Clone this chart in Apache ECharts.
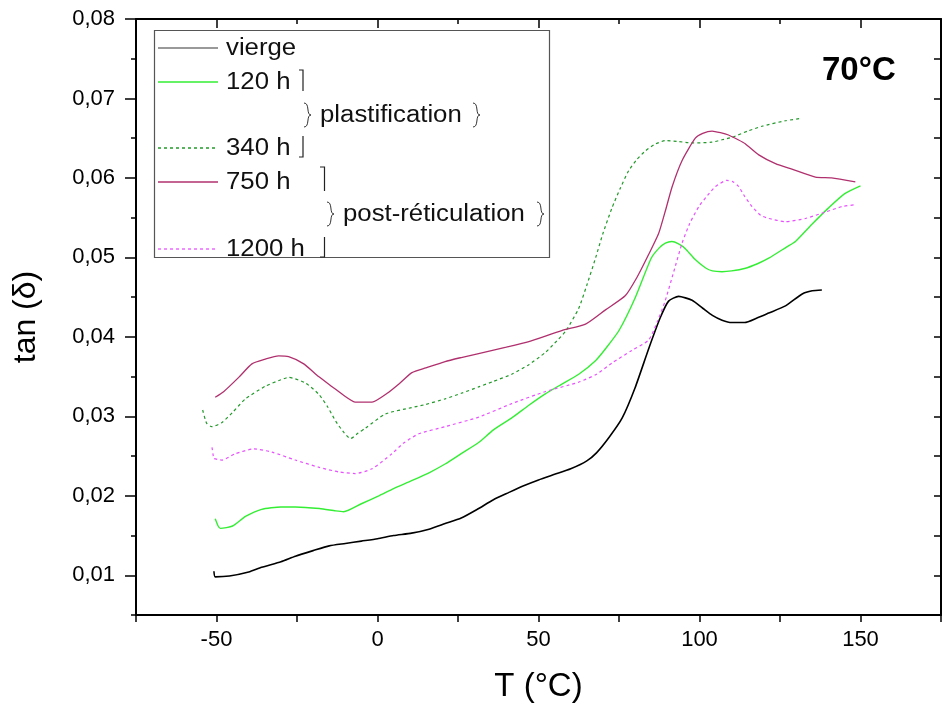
<!DOCTYPE html>
<html>
<head>
<meta charset="utf-8">
<script src="https://cdn.jsdelivr.net/npm/echarts@6/dist/echarts.min.js"></script>
<style>html,body{margin:0;padding:0;background:#fff}#c{width:943px;height:709px}</style>
</head>
<body>
<div id="c"></div>
<script>
// ---- data (T in °C, tan delta) ----
const seriesNames = ['vierge', '120 h', '340 h', '750 h', '1200 h'];
const xTickLabels = [-50, 0, 50, 100, 150];
const yTickLabels = [0.01, 0.02, 0.03, 0.04, 0.05, 0.06, 0.07, 0.08];

const vierge = [[-50.8,0.0105],[-50.4,0.0098],[-46,0.0099],[-40,0.0104],[-36,0.0110],[-30,0.0117],[-25.5,0.0124],[-20,0.0131],[-15,0.0137],[-10,0.0140],[-5,0.0143],[0,0.0146],[5,0.0150],[10.6,0.0153],[16,0.0158],[21,0.0165],[26,0.0172],[31,0.0183],[36,0.0195],[40.7,0.0204],[45,0.0212],[50,0.0220],[55,0.0227],[60,0.0234],[65,0.0244],[68,0.0254],[72,0.0274],[76,0.0298],[80,0.0336],[84.3,0.0386],[87.8,0.0424],[90.4,0.0445],[93.5,0.0451],[97.7,0.0446],[101,0.0436],[104,0.0427],[107,0.0421],[110,0.0418],[114,0.0418],[118,0.0424],[121.5,0.0430],[126.7,0.0439],[131.9,0.0454],[135,0.0458],[138,0.0459]];

const h120 = [[-50.4,0.0171],[-49.5,0.0162],[-48.8,0.0159],[-45,0.0162],[-41,0.0174],[-36,0.0183],[-30,0.0186],[-25.5,0.0186],[-18,0.0184],[-13,0.0181],[-10.5,0.0180],[-5,0.0190],[0.4,0.0200],[5,0.0209],[10.6,0.0219],[16,0.0229],[21,0.0240],[26,0.0253],[31.4,0.0267],[36,0.0283],[41.7,0.0298],[47,0.0314],[52,0.0328],[57,0.0340],[62.5,0.0353],[67.7,0.0370],[71,0.0386],[75,0.0408],[80,0.0449],[85,0.0499],[87.5,0.0512],[89.4,0.0518],[91.4,0.0520],[93.5,0.0517],[95.6,0.0511],[98.5,0.0498],[101.8,0.0487],[104,0.0483],[107,0.0482],[110,0.0483],[114,0.0486],[118,0.0492],[121.5,0.0499],[127,0.0513],[129.8,0.0520],[135,0.0542],[140,0.0562],[145,0.0580],[150,0.0590]];

const h340 = [[-54.3,0.0308],[-53.5,0.0296],[-53,0.0291],[-51.5,0.0287],[-48.4,0.0292],[-45,0.0305],[-41,0.0322],[-34.8,0.0338],[-30,0.0346],[-27.6,0.0349],[-22.4,0.0342],[-18.3,0.0328],[-15.5,0.0312],[-13,0.0294],[-10.5,0.0280],[-8.4,0.0272],[-6,0.0279],[-3.8,0.0285],[2.5,0.0303],[10.6,0.0311],[15,0.0315],[21,0.0322],[26,0.0329],[31.4,0.0337],[36,0.0344],[41.7,0.0353],[47,0.0365],[52,0.0380],[55,0.0392],[58.4,0.0407],[62.5,0.0436],[65,0.0465],[67.7,0.0499],[70,0.0530],[72.8,0.0562],[75.5,0.0588],[78,0.0609],[80.5,0.0623],[83.2,0.0634],[86,0.0642],[89.4,0.0647],[93,0.0646],[97.6,0.0644],[103.8,0.0645],[107,0.0648],[110,0.0651],[115,0.0659],[119.4,0.0665],[126.7,0.0672],[131.8,0.0675]];

const h750 = [[-50.4,0.0324],[-47.8,0.0331],[-43.1,0.0349],[-39,0.0366],[-34.8,0.0372],[-30.7,0.0376],[-27.6,0.0375],[-22.9,0.0366],[-18.3,0.0350],[-14,0.0337],[-10,0.0325],[-6.9,0.0318],[-1.7,0.0318],[3,0.0329],[7,0.0342],[10.7,0.0355],[15,0.0361],[21,0.0369],[26,0.0374],[31.4,0.0379],[40,0.0387],[47,0.0394],[57.2,0.0408],[64.6,0.0416],[70.8,0.0434],[77,0.0452],[80.6,0.0475],[84,0.0502],[87.3,0.0530],[89.5,0.0560],[91.5,0.0589],[94.6,0.0622],[98.7,0.0650],[101,0.0656],[103.9,0.0659],[106.5,0.0657],[109,0.0654],[112,0.0648],[114.2,0.0643],[118.4,0.0629],[123.6,0.0618],[128.7,0.0611],[136,0.0601],[141,0.0600],[148.4,0.0595]];

const h1200 = [[-51.4,0.0261],[-51,0.0250],[-50.9,0.0247],[-48.3,0.0245],[-44.1,0.0253],[-38.4,0.0259],[-32.8,0.0255],[-25.5,0.0245],[-18.3,0.0236],[-12,0.0230],[-6.9,0.0228],[-1.7,0.0234],[4.5,0.0253],[8,0.0266],[12.8,0.0278],[21,0.0287],[31.4,0.0299],[41.7,0.0316],[52,0.0331],[62.5,0.0343],[68,0.0353],[72.8,0.0367],[79,0.0383],[84.2,0.0396],[87,0.0420],[89.4,0.0446],[92,0.0482],[94.6,0.0518],[97,0.0543],[99.8,0.0564],[102.5,0.0578],[104.9,0.0589],[108.5,0.0597],[110.5,0.0595],[112.2,0.0589],[114,0.0577],[116.3,0.0564],[119,0.0553],[121.5,0.0549],[126.7,0.0545],[132.9,0.0549],[139,0.0557],[144.3,0.0564],[147.9,0.0566]];

// ---- styling ----
const FONT = '"Liberation Sans", Arial, sans-serif';
const colors = ['#000000', '#33ee33', '#22992a', '#b0306e', '#e850ff'];
const legendColors = ['#777777', '#33ee33', '#22992a', '#b0306e', '#e850ff'];
const dashed = [false, false, true, false, true];
const widths = [1.6, 1.4, 1.2, 1.3, 1.2];
const allData = [vierge, h120, h340, h750, h1200];

const series = allData.map((d, i) => ({
  name: seriesNames[i],
  type: 'line',
  data: d,
  showSymbol: false,
  smooth: 0.2,
  xAxisIndex: 0,
  yAxisIndex: 0,
  lineStyle: { color: colors[i], width: widths[i], type: dashed[i] ? [3, 3] : 'solid' },
  z: 3
}));

// ---- legend (drawn as graphic) ----
const legendRowsY = [48, 82, 148, 182, 249];
const graphic = [];
graphic.push({ type: 'rect', z: 50, shape: { x: 154.5, y: 30.5, width: 395, height: 227 },
  style: { fill: '#fff', stroke: '#555', lineWidth: 1.2 } });
function addText(txt, x, y, size, opts) {
  graphic.push(Object.assign({ type: 'text', z: 51, x: x, y: y, scaleX: 1.12,
    style: { text: txt, x: 0, y: 0, fill: '#111', font: size + 'px ' + FONT, textVerticalAlign: 'middle', textAlign: 'left' } }, opts || {}));
}
seriesNames.forEach((n, i) => {
  const y = legendRowsY[i];
  graphic.push({ type: 'line', z: 51, shape: { x1: 158, y1: y, x2: 218, y2: y },
    style: { stroke: legendColors[i], lineWidth: 1.3, lineDash: dashed[i] ? [3, 3] : null } });
  addText(n, 226, y + 1, 23);
});
function addPoly(pts) {
  graphic.push({ type: 'polyline', z: 51, shape: { points: pts }, style: { stroke: '#222', lineWidth: 1.2, fill: null } });
}
addPoly([[299, 70], [303, 70], [303, 91]]);
addPoly([[303, 136], [303, 157], [299, 157]]);
addPoly([[320, 167], [324.5, 167], [324.5, 191]]);
addPoly([[324.5, 237], [324.5, 257], [320, 257]]);
function addBrace(x, yc) {
  graphic.push({ type: 'bezierCurve', z: 51,
    shape: { x1: x, y1: yc - 12, x2: x + 7, y2: yc, cpx1: x + 6, cpy1: yc - 12, cpx2: x + 2, cpy2: yc },
    style: { stroke: '#333', lineWidth: 1, fill: null } });
  graphic.push({ type: 'bezierCurve', z: 51,
    shape: { x1: x + 7, y1: yc, x2: x, y2: yc + 12, cpx1: x + 2, cpy1: yc, cpx2: x + 6, cpy2: yc + 12 },
    style: { stroke: '#333', lineWidth: 1, fill: null } });
}
addBrace(304, 115); addText('plastification', 320, 116, 23); addBrace(473, 115);
addBrace(327, 214); addText('post-réticulation', 343, 215, 23); addBrace(537, 214);

// title
graphic.push({ type: 'text', z: 51, x: 822, y: 71,
  style: { text: '70°C', x: 0, y: 0, fill: '#000', font: 'bold 33px ' + FONT, textVerticalAlign: 'middle' } });

const axisLineStyle = { color: '#000', width: 2 };
const option = {
  animation: false,
  backgroundColor: '#fff',
  grid: { left: 136, right: 2, top: 19, bottom: 94, containLabel: false },
  xAxis: [
    { type: 'value', position: 'bottom', min: -75, max: 175, interval: 25,
      axisLine: { onZero: false, lineStyle: axisLineStyle },
      axisTick: { length: 7, lineStyle: { color: '#000', width: 1.5 } },
      axisLabel: { customValues: xTickLabels, color: '#000', fontSize: 22, fontFamily: FONT, margin: 14 },
      splitLine: { show: false },
      name: 'T (°C)', nameLocation: 'middle', nameGap: 55,
      nameTextStyle: { color: '#000', fontSize: 33, fontFamily: FONT } },
    { type: 'value', position: 'top', min: -75, max: 175, interval: 25,
      axisLine: { onZero: false, lineStyle: axisLineStyle },
      axisTick: { inside: true, length: 5, lineStyle: { color: '#000', width: 1.5 } },
      axisLabel: { show: false }, splitLine: { show: false } },
    { type: 'value', position: 'top', min: -75, max: 175, interval: 25,
      axisLine: { show: false, onZero: false },
      axisTick: { inside: true, length: 9, customValues: xTickLabels, lineStyle: { color: '#000', width: 1.5 } },
      axisLabel: { show: false }, splitLine: { show: false } }
  ],
  yAxis: [
    { type: 'value', position: 'left', min: 0.005, max: 0.08,
      axisLine: { onZero: false, lineStyle: axisLineStyle },
      axisTick: { length: 11, customValues: yTickLabels, lineStyle: { color: '#000', width: 1.5 } },
      axisLabel: { customValues: yTickLabels, color: '#000', fontSize: 22, fontFamily: FONT, margin: 21,
        formatter: v => v.toFixed(2).replace('.', ',') },
      splitLine: { show: false },
      name: 'tan (δ)', nameLocation: 'middle', nameGap: 94, nameRotate: 90,
      nameTextStyle: { color: '#000', fontSize: 32, fontFamily: FONT } },
    { type: 'value', position: 'left', min: 0.005, max: 0.08, interval: 0.005,
      axisLine: { show: false, onZero: false },
      axisTick: { length: 5, lineStyle: { color: '#000', width: 1.5 } },
      axisLabel: { show: false }, splitLine: { show: false } },
    { type: 'value', position: 'right', min: 0.005, max: 0.08, interval: 0.005,
      axisLine: { onZero: false, lineStyle: axisLineStyle },
      axisTick: { inside: true, length: 7, lineStyle: { color: '#000', width: 1.5 } },
      axisLabel: { show: false }, splitLine: { show: false } }
  ],
  series: series,
  graphic: graphic
};
const chart = echarts.init(document.getElementById('c'), null, { renderer: 'canvas' });
chart.setOption(option);
</script>
</body>
</html>
